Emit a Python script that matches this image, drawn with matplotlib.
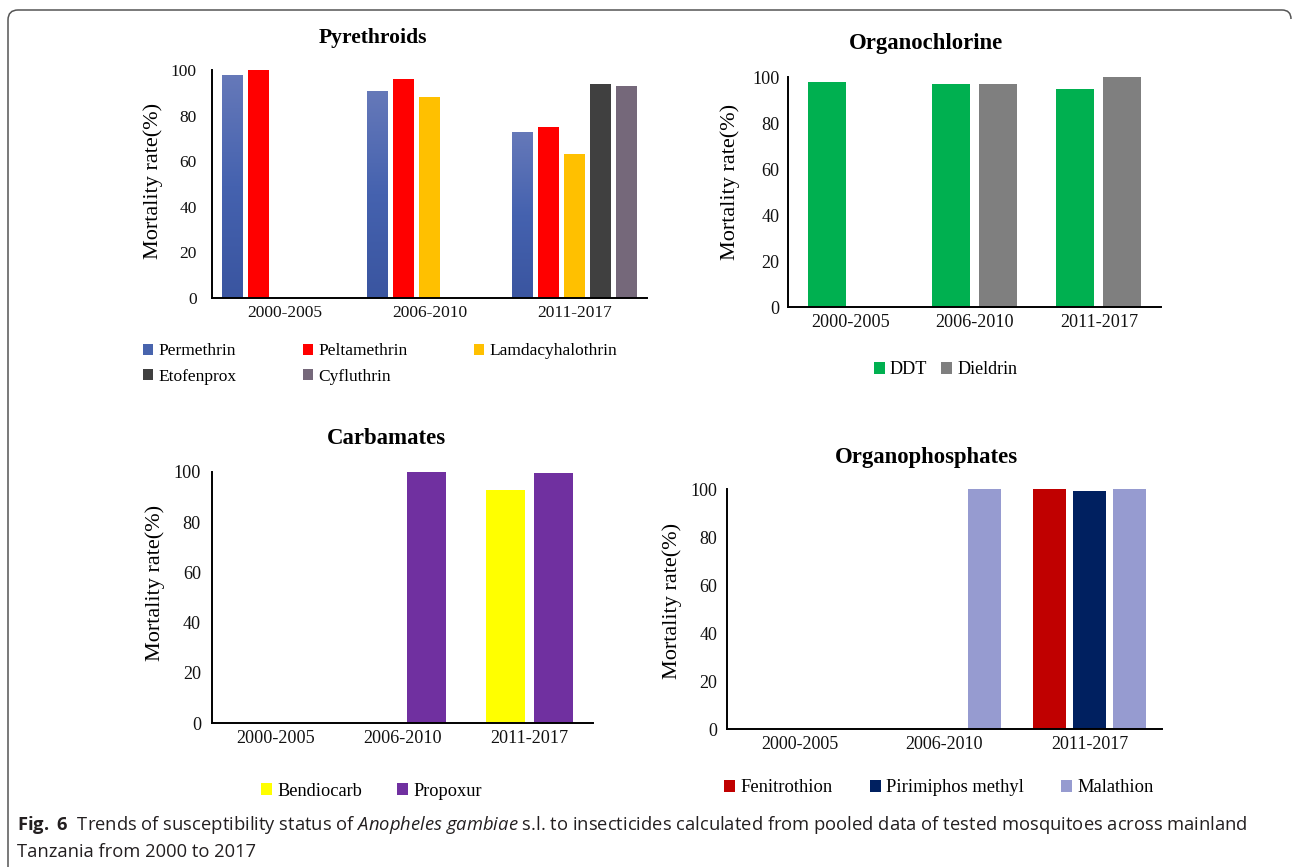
import matplotlib
matplotlib.use("Agg")
import matplotlib.pyplot as plt
import numpy as np
from matplotlib import font_manager
from matplotlib.colors import LinearSegmentedColormap
from matplotlib.path import Path
from matplotlib.patches import PathPatch

# ---------------- data ----------------
categories = ["2000-2005", "2006-2010", "2011-2017"]

pyr_names = ["Permethrin", "Peltamethrin", "Lamdacyhalothrin", "Etofenprox", "Cyfluthrin"]
pyr_permethrin = [98, 91, 73]
pyr_peltamethrin = [100, 96, 75]
pyr_lamdacyhalothrin = [0, 88, 63]
pyr_etofenprox = [0, 0, 94]
pyr_cyfluthrin = [0, 0, 93]

oc_names = ["DDT", "Dieldrin"]
oc_ddt = [98, 97, 95]
oc_dieldrin = [0, 97, 100]

carb_names = ["Bendiocarb", "Propoxur"]
carb_bendiocarb = [0, 0, 93]
carb_propoxur = [0, 100, 99.6]

op_names = ["Fenitrothion", "Pirimiphos methyl", "Malathion"]
op_fenitrothion = [0, 0, 100]
op_pirimiphos = [0, 0, 99.2]
op_malathion = [0, 100, 100]

yticks = [0, 20, 40, 60, 80, 100]

# ---------------- fonts ----------------
names_avail = {f.name for f in font_manager.fontManager.ttflist}
cap_font = "Liberation Sans Narrow" if "Liberation Sans Narrow" in names_avail else "Open Sans"
plt.rcParams["font.family"] = ["Liberation Serif", "DejaVu Serif"]
plt.rcParams["mathtext.fontset"] = "custom"
plt.rcParams["mathtext.rm"] = cap_font
plt.rcParams["mathtext.it"] = cap_font + ":italic"
plt.rcParams["mathtext.bf"] = cap_font + ":bold"

W, H = 1292, 867
fig = plt.figure(figsize=(W / 100, H / 100), dpi=100)


def fx(px):
    return px / W


def fy(py):
    return 1 - py / H


def make_axes(left, right, top, bottom):
    return fig.add_axes([fx(left), fy(bottom), (right - left) / W, (bottom - top) / H])


def panel(ax, series, names, colors, slot, width, fs_tick, ytick_pad, ylab_x, ylab_y):
    n = len(series)
    x = np.arange(len(categories))
    conts = []
    for i, (vals, name, col) in enumerate(zip(series, names, colors)):
        off = (i - (n - 1) / 2) * slot
        conts.append(ax.bar(x + off, vals, width, color=col, label=name, zorder=2))
    ax.set_xlim(-0.5, len(categories) - 0.5)
    ax.set_ylim(0, 100)
    ax.set_yticks(yticks)
    ax.set_xticks(x, categories)
    for s in ["top", "right"]:
        ax.spines[s].set_visible(False)
    for s in ["left", "bottom"]:
        ax.spines[s].set_linewidth(1.4)
        ax.spines[s].set_color("black")
        ax.spines[s].set_zorder(4)
    ax.tick_params(length=0, labelsize=fs_tick, labelcolor="#111111")
    ax.tick_params(axis="y", pad=ytick_pad)
    ax.tick_params(axis="x", pad=5)
    ax.set_ylabel("Mortality rate(%)", fontsize=16)
    ax.yaxis.set_label_coords(fx(ylab_x), fy(ylab_y), transform=fig.transFigure)
    return conts


def add_legend(ax, conts, labels, cx, cy, fs, ncol, colsp, order=None):
    if order is None:
        order = list(range(len(conts)))
    ax.legend([conts[i] for i in order], [labels[i] for i in order], ncol=ncol,
              loc="center", bbox_to_anchor=(fx(cx), fy(cy)), bbox_transform=fig.transFigure,
              frameon=False, fontsize=fs, handlelength=0.6, handleheight=0.6,
              handletextpad=0.3, columnspacing=colsp, labelspacing=0.55,
              borderpad=0, borderaxespad=0)


# ---------------- Pyrethroids ----------------
ax1 = make_axes(212, 647, 70, 298)
c1 = panel(ax1, [pyr_permethrin, pyr_peltamethrin, pyr_lamdacyhalothrin, pyr_etofenprox, pyr_cyfluthrin],
           pyr_names, ["#4864ad", "#ff0000", "#ffc000", "#404040", "#75687a"],
           slot=26 / 145, width=21 / 145, fs_tick=12.5, ytick_pad=11, ylab_x=163, ylab_y=181)
# gradient fill for Permethrin
grad_cmap = LinearSegmentedColormap.from_list("perm", ["#3a55a0", "#4562af", "#6679b9"])
grad = np.linspace(0, 1, 256).reshape(-1, 1)
for p in c1[0].patches:
    h = p.get_height()
    if h > 0:
        x0 = p.get_x()
        im = ax1.imshow(grad, extent=(x0, x0 + p.get_width(), 0, h), origin="lower",
                        cmap=grad_cmap, aspect="auto", zorder=2.1, interpolation="bilinear")
        im.set_clip_path(p)
ax1.set_xlim(-0.5, 2.5)
ax1.set_ylim(0, 100)
add_legend(ax1, c1, pyr_names, 380, 364, 12.5, 3, 3.8, order=[0, 3, 1, 4, 2])
fig.text(fx(373), fy(38), "Pyrethroids", ha="center", va="center", fontsize=15.6, fontweight="bold")

# ---------------- Organochlorine ----------------
ax2 = make_axes(788, 1161, 77, 307)
c2 = panel(ax2, [oc_ddt, oc_dieldrin], oc_names, ["#00b050", "#7f7f7f"],
           slot=47 / 124.3, width=38 / 124.3, fs_tick=13.1, ytick_pad=6, ylab_x=740, ylab_y=182)
add_legend(ax2, c2, oc_names, 945.5, 370, 13.1, 2, 0.75)
fig.text(fx(926), fy(43), "Organochlorine", ha="center", va="center", fontsize=16.4, fontweight="bold")

# ---------------- Carbamates ----------------
ax3 = make_axes(212, 593, 472, 723)
c3 = panel(ax3, [carb_bendiocarb, carb_propoxur], carb_names, ["#ffff00", "#7030a0"],
           slot=48.5 / 127, width=39 / 127, fs_tick=13.1, ytick_pad=8, ylab_x=165, ylab_y=583)
add_legend(ax3, c3, carb_names, 371.5, 791, 13.2, 2, 1.9)
fig.text(fx(386.5), fy(438), "Carbamates", ha="center", va="center", fontsize=16.4, fontweight="bold")

# ---------------- Organophosphates ----------------
ax4 = make_axes(727, 1162, 489, 729)
c4 = panel(ax4, [op_fenitrothion, op_pirimiphos, op_malathion], op_names,
           ["#c00000", "#002060", "#969bd0"],
           slot=40 / 145, width=33 / 145, fs_tick=13.0, ytick_pad=7, ylab_x=682, ylab_y=601)
add_legend(ax4, c4, op_names, 939, 788, 13.3, 3, 2.0)
fig.text(fx(926), fy(458), "Organophosphates", ha="center", va="center", fontsize=16.4, fontweight="bold")

# ---------------- border ----------------
verts = [(8, 867), (8, 20), (8, 10), (18, 10), (1282, 10), (1291, 10), (1291, 19)]
codes = [Path.MOVETO, Path.LINETO, Path.CURVE3, Path.CURVE3, Path.LINETO, Path.CURVE3, Path.CURVE3]
verts_f = [(fx(a), fy(b)) for a, b in verts]
fig.add_artist(PathPatch(Path(verts_f, codes), transform=fig.transFigure, fill=False,
                         edgecolor="#555555", linewidth=1.1))

# ---------------- caption ----------------
cap1 = (r"$\mathbf{Fig.\ 6}$  Trends of susceptibility status of $\mathit{Anopheles\ gambiae}$ "
        "s.l. to insecticides calculated from pooled data of tested mosquitoes across mainland")
cap2 = "Tanzania from 2000 to 2017"
fs0 = 13
t1 = fig.text(fx(17), fy(830), cap1, ha="left", va="baseline", fontsize=fs0,
              family=cap_font, color="#231f20")
t2 = fig.text(fx(17), fy(857), cap2, ha="left", va="baseline", fontsize=fs0,
              family=cap_font, color="#231f20")
fig.canvas.draw()
bb = t1.get_window_extent(fig.canvas.get_renderer())
scale = 1230 / bb.width
t1.set_fontsize(fs0 * scale)
t2.set_fontsize(fs0 * scale)

fig.savefig("out.png", dpi=100)
